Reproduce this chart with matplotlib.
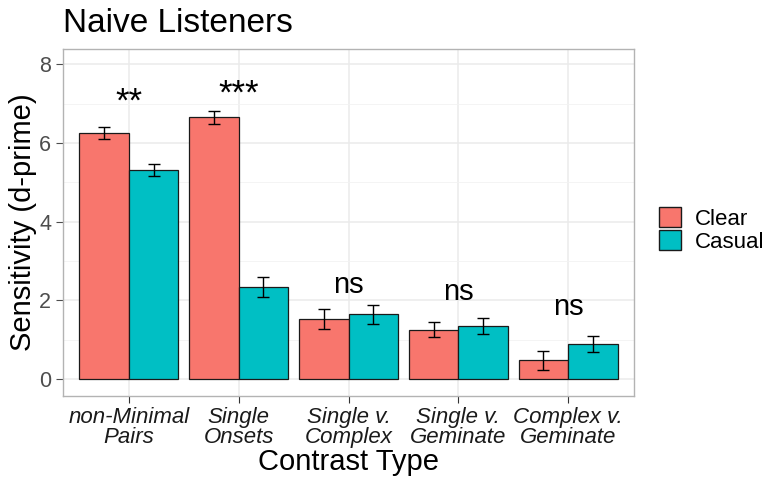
import numpy as np
import matplotlib.pyplot as plt
from matplotlib.patches import Patch

plt.rcParams["font.family"] = ["Liberation Sans", "DejaVu Sans"]

categories = ["non-Minimal\nPairs", "Single\nOnsets", "Single v.\nComplex",
              "Single v.\nGeminate", "Complex v.\nGeminate"]
clear_mean = [6.25, 6.65, 1.53, 1.26, 0.48]
clear_err = [0.15, 0.165, 0.245, 0.18, 0.24]
casual_mean = [5.31, 2.34, 1.65, 1.36, 0.89]
casual_err = [0.15, 0.26, 0.245, 0.205, 0.195]
sig_labels = ["**", "***", "ns", "ns", "ns"]
sig_y = [6.81, 6.99, 2.19, 2.01, 1.63]

clear_col = "#F8766D"
casual_col = "#00BFC4"

fig = plt.figure(figsize=(7.65, 4.79), dpi=100)
ax = fig.add_axes([63 / 765, 1 - 396 / 479, (634 - 63) / 765, (396 - 49) / 479])

x = np.arange(1, len(categories) + 1)
w = 0.45
ax.bar(x - w / 2, clear_mean, w, color=clear_col, edgecolor="#1a1a1a", linewidth=0.9, zorder=3)
ax.bar(x + w / 2, casual_mean, w, color=casual_col, edgecolor="#1a1a1a", linewidth=0.9, zorder=3)
ax.errorbar(x - w / 2, clear_mean, yerr=clear_err, fmt="none", ecolor="black",
            elinewidth=1, capsize=4, capthick=1, zorder=4)
ax.errorbar(x + w / 2, casual_mean, yerr=casual_err, fmt="none", ecolor="black",
            elinewidth=1, capsize=4, capthick=1, zorder=4)

# significance marks; the stars get a bigger size like in the original
for xi, lab, yi in zip(x, sig_labels, sig_y):
    fs = 25 if lab.startswith("*") else 21
    ax.text(xi, yi, lab, ha="center", va="baseline", fontsize=fs, color="black", zorder=5)

ax.set_xlim(0.4, 5.6)
ax.set_ylim(-0.43, 8.39)
ax.set_xticks(x)
ax.set_xticklabels(categories, fontsize=16, style="italic", color="#1a1a1a", linespacing=0.95)
ax.set_yticks([0, 2, 4, 6, 8])
ax.set_yticks([1, 3, 5, 7], minor=True)
ax.tick_params(axis="y", labelsize=15.5, colors="#4d4d4d", length=5, width=0.8)
ax.tick_params(axis="y", which="minor", length=0)
ax.tick_params(axis="x", length=5, width=0.8, colors="#333333", labelcolor="#1a1a1a", pad=3)

ax.grid(True, which="major", color="#ebebeb", linewidth=1.1, zorder=0)
ax.grid(True, which="minor", axis="y", color="#f2f2f2", linewidth=0.6, zorder=0)
ax.set_axisbelow(True)
for s in ax.spines.values():
    s.set_color("#b3b3b3")
    s.set_linewidth(1)

ax.set_xlabel("Contrast Type", fontsize=21, va="baseline")
ax.xaxis.set_label_coords(0.5, (396 - 470) / 347)
ax.set_ylabel("Sensitivity (d-prime)", fontsize=21, labelpad=1.5)
ax.set_title("Naive Listeners", fontsize=24, loc="left", pad=12)

handles = [Patch(facecolor=clear_col, edgecolor="#1a1a1a", label="Clear"),
           Patch(facecolor=casual_col, edgecolor="#1a1a1a", label="Casual")]
fig.legend(handles=handles, loc="center left", bbox_to_anchor=(650 / 765, 1 - 230 / 479),
           frameon=False, fontsize=16, handlelength=1.0, handleheight=1.0,
           handletextpad=0.6, labelspacing=0.0, borderaxespad=0)

fig.savefig("out.png", dpi=100)
